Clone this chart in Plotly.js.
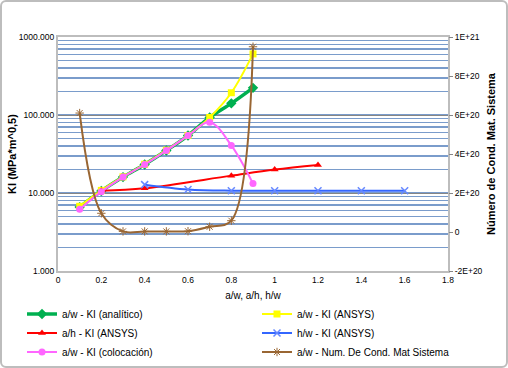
<!DOCTYPE html>
<html><head><meta charset="utf-8">
<script src="https://cdn.plot.ly/plotly-3.0.1.min.js"></script>
<style>body{margin:0;background:#fff}#wrap{position:relative;width:508px;height:368px}#c{width:508px;height:368px}#frame{position:absolute;left:0;top:0;width:504px;height:364px;border:2px solid #bdbdbd;border-radius:6px;pointer-events:none}</style>
</head><body><div id="wrap"><div id="c"></div><div id="frame"></div></div>
<script>
const xAw = [0.1,0.2,0.3,0.4,0.5,0.6,0.7,0.8,0.9];
const kiAnalitico = [6.6,10.6,16.0,23.2,35.0,54.5,93,141,223];
const kiAnsysAw = [6.75,10.8,16.1,23.4,35.4,54.7,93,193,607];
const xAh = [0.2,0.4,0.8,1.0,1.2];
const kiAnsysAh = [10.7,11.5,16.7,20.0,22.9];
const xHw = [0.4,0.6,0.8,1.0,1.2,1.4,1.6];
const kiAnsysHw = [12.8,11.1,10.7,10.7,10.7,10.7,10.7];
const kiColocacion = [6.2,10.4,16.0,23.2,35.0,54.5,81,40.7,13.2];
const condNum = [6.1e20,9.6e19,3e18,3e18,3e18,4e18,2.7e19,5.8e19,9.5e20];
const names = ["a/w - KI (analítico)","a/w - KI (ANSYS)","a/h - KI (ANSYS)","h/w - KI (ANSYS)","a/w - KI (colocación)","a/w - Num. De Cond. Mat Sistema"];
const yTickVals = [1,10,100,1000];
const yTickText = ["1.000","10.000","100.000","1000.000"];
const y2TickVals = [-2e20,0,2e20,4e20,6e20,8e20,1e21];
const y2TickText = ["-2E+20","0","2E+20","4E+20","6E+20","8E+20","1E+21"];
const xTickVals = [0,0.2,0.4,0.6,0.8,1,1.2,1.4,1.6,1.8];
const xTickText = ["0","0.2","0.4","0.6","0.8","1","1.2","1.4","1.6","1.8"];
const yTitle = "KI (MPa*m^0,5)";
const y2Title = "Número de Cond. Mat. Sistema";
const xTitle = "a/w, a/h, h/w";

const traces = [
 {x:xAw,y:kiAnalitico,name:names[0],legend:'legend',mode:'lines+markers',line:{color:'#00B050',width:3.5,shape:'spline'},marker:{symbol:'diamond',size:8,color:'#00B050'}},
 {x:xAw,y:kiAnsysAw,name:names[1],legend:'legend2',mode:'lines+markers',line:{color:'#FFFF00',width:2,shape:'spline'},marker:{symbol:'square',size:7,color:'#FFFF00'}},
 {x:xAh,y:kiAnsysAh,name:names[2],legend:'legend',mode:'lines+markers',line:{color:'#FF0000',width:2,shape:'spline'},marker:{symbol:'triangle-up',size:7,color:'#FF0000'}},
 {x:xHw,y:kiAnsysHw,name:names[3],legend:'legend2',mode:'lines+markers',line:{color:'#3366FF',width:2,shape:'spline'},marker:{symbol:'x-thin-open',size:7,color:'#6688FF',line:{color:'#6688FF',width:1.5}}},
 {x:xAw,y:kiColocacion,name:names[4],legend:'legend',mode:'lines+markers',line:{color:'#FF66FF',width:2,shape:'spline'},marker:{symbol:'circle',size:7,color:'#FF66FF'}},
 {x:xAw,y:condNum,name:names[5],legend:'legend2',yaxis:'y2',mode:'lines+markers',line:{color:'#996633',width:2,shape:'spline'},marker:{symbol:'asterisk-open',size:7,color:'#996633',line:{color:'#996633',width:1}}}
];
const FW = 508, FH = 368;
const PL = 58, PR = 448, PT = 37, PB = 271;
const font = {family:'Liberation Sans, Arial, sans-serif',size:8.5,color:'#000'};
const legBase = {orientation:'v',xanchor:'left',yanchor:'middle',y:1-333/FH,tracegroupgap:0,font:{size:10},itemwidth:30,bgcolor:'rgba(0,0,0,0)'};
const layout = {
 width:FW,height:FH,margin:{l:0,r:0,t:0,b:0,pad:0},
 paper_bgcolor:'#fff',plot_bgcolor:'#fff',font:font,showlegend:true,
 xaxis:{domain:[PL/FW,PR/FW],range:[0,1.8],tickvals:xTickVals,ticktext:xTickText,showgrid:false,zeroline:false,automargin:false,
   showline:true,linecolor:'#bdbdbd',linewidth:2,mirror:true,ticks:'',
   title:{text:xTitle,font:{size:10},standoff:8}},
 yaxis:{domain:[1-PB/FH,1-PT/FH],type:'log',range:[0,3],tickvals:yTickVals,ticktext:yTickText,gridcolor:'#868686',gridwidth:1,automargin:false,
   showline:true,linecolor:'#bdbdbd',linewidth:2,mirror:true,ticks:'',zeroline:false,
   minor:{dtick:'D1',showgrid:true,gridcolor:'#7A9CCB',gridwidth:1.5,ticks:''},
   title:{text:'<b>'+yTitle+'</b>',font:{size:11},standoff:0}},
 yaxis2:{overlaying:'y',side:'right',range:[-2e20,1e21],tickvals:y2TickVals,ticktext:y2TickText,showgrid:false,zeroline:false,automargin:false,
   ticks:'outside',ticklen:4,tickcolor:'#868686',showline:false,
   title:{text:'<b>'+y2Title+'</b>',font:{size:11},standoff:5}},
 legend:Object.assign({},legBase,{x:22/FW}),
 legend2:Object.assign({},legBase,{x:257/FW})
};
Plotly.newPlot('c',traces,layout,{staticPlot:true});
</script></body></html>
